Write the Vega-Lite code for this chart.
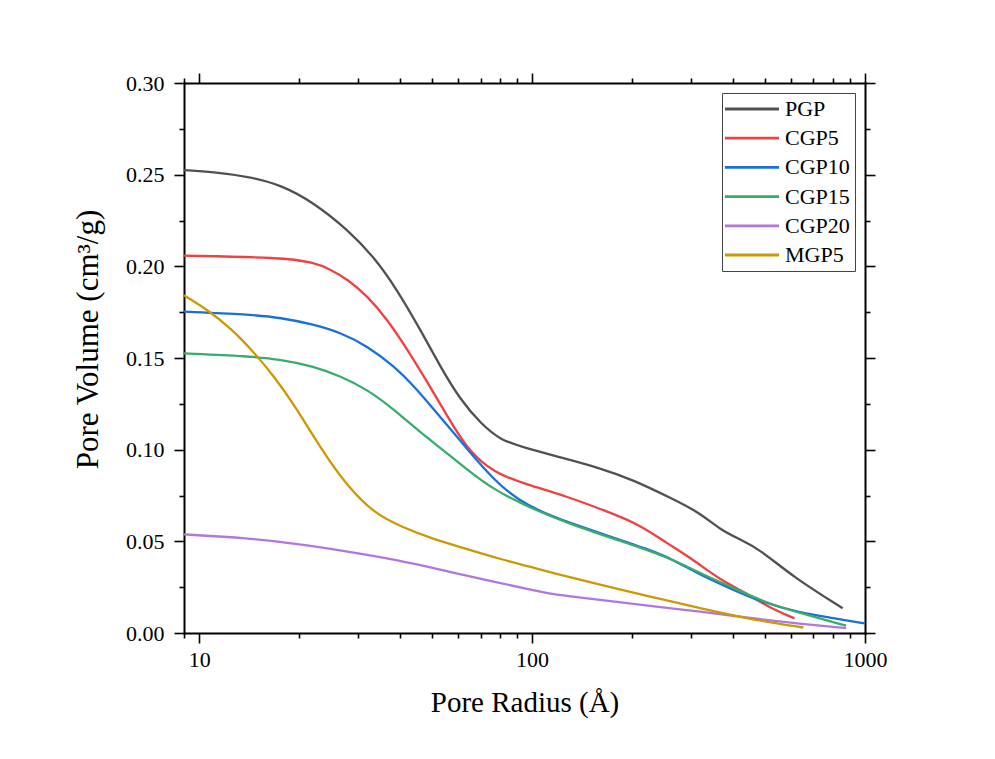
{
  "$schema": "https://vega.github.io/schema/vega-lite/v6.json",
  "width": 681,
  "height": 550,
  "autosize": {"type": "none"},
  "padding": {"left": 184, "top": 83, "right": 130, "bottom": 126},
  "background": "white",
  "config": {
    "view": {"stroke": null},
    "axis": {
      "grid": false,
      "domainColor": "black",
      "tickColor": "black",
      "labelColor": "black",
      "titleColor": "black",
      "labelFont": "Liberation Serif",
      "titleFont": "Liberation Serif",
      "labelFontSize": 22,
      "titleFontSize": 29,
      "titleFontWeight": "normal",
      "domainWidth": 2,
      "domainCap": "square",
      "tickWidth": 1.6,
      "labelFlush": false,
      "labelOverlap": false,
      "labelBound": false
    },
    "legend": {
      "labelFont": "Liberation Serif",
      "labelFontSize": 22,
      "labelColor": "black"
    }
  },
  "data": {
    "values": [
      {"series": "PGP", "r": 9, "v": 0.2525},
      {"series": "PGP", "r": 11, "v": 0.2515},
      {"series": "PGP", "r": 14, "v": 0.249},
      {"series": "PGP", "r": 17.6, "v": 0.2445},
      {"series": "PGP", "r": 22.1, "v": 0.2347},
      {"series": "PGP", "r": 27.9, "v": 0.22},
      {"series": "PGP", "r": 33.4, "v": 0.2054},
      {"series": "PGP", "r": 39.4, "v": 0.187},
      {"series": "PGP", "r": 46.3, "v": 0.165},
      {"series": "PGP", "r": 53.1, "v": 0.145},
      {"series": "PGP", "r": 61, "v": 0.127},
      {"series": "PGP", "r": 70, "v": 0.1144},
      {"series": "PGP", "r": 80.4, "v": 0.105},
      {"series": "PGP", "r": 96.6, "v": 0.1008},
      {"series": "PGP", "r": 119, "v": 0.0962},
      {"series": "PGP", "r": 160, "v": 0.09},
      {"series": "PGP", "r": 201, "v": 0.0835},
      {"series": "PGP", "r": 260, "v": 0.0738},
      {"series": "PGP", "r": 320, "v": 0.0655},
      {"series": "PGP", "r": 367, "v": 0.0563},
      {"series": "PGP", "r": 420, "v": 0.0512},
      {"series": "PGP", "r": 484, "v": 0.0455},
      {"series": "PGP", "r": 608, "v": 0.0306},
      {"series": "PGP", "r": 857, "v": 0.0135},

      {"series": "CGP5", "r": 9, "v": 0.2058},
      {"series": "CGP5", "r": 17.6, "v": 0.2048},
      {"series": "CGP5", "r": 22.1, "v": 0.2022},
      {"series": "CGP5", "r": 24.8, "v": 0.1983},
      {"series": "CGP5", "r": 27.9, "v": 0.1929},
      {"series": "CGP5", "r": 32, "v": 0.1838},
      {"series": "CGP5", "r": 36.7, "v": 0.1711},
      {"series": "CGP5", "r": 42.2, "v": 0.1547},
      {"series": "CGP5", "r": 48.4, "v": 0.137},
      {"series": "CGP5", "r": 55.6, "v": 0.1183},
      {"series": "CGP5", "r": 63.8, "v": 0.1002},
      {"series": "CGP5", "r": 76.7, "v": 0.0873},
      {"series": "CGP5", "r": 96.6, "v": 0.0809},
      {"series": "CGP5", "r": 127.4, "v": 0.0745},
      {"series": "CGP5", "r": 168, "v": 0.0663},
      {"series": "CGP5", "r": 211, "v": 0.059},
      {"series": "CGP5", "r": 254, "v": 0.049},
      {"series": "CGP5", "r": 305, "v": 0.04},
      {"series": "CGP5", "r": 367, "v": 0.029},
      {"series": "CGP5", "r": 441, "v": 0.0218},
      {"series": "CGP5", "r": 507, "v": 0.0145},
      {"series": "CGP5", "r": 614, "v": 0.008},

      {"series": "CGP10", "r": 9, "v": 0.1753},
      {"series": "CGP10", "r": 14, "v": 0.1738},
      {"series": "CGP10", "r": 17.6, "v": 0.172},
      {"series": "CGP10", "r": 22.1, "v": 0.1683},
      {"series": "CGP10", "r": 26.6, "v": 0.1638},
      {"series": "CGP10", "r": 32, "v": 0.1565},
      {"series": "CGP10", "r": 38.5, "v": 0.1455},
      {"series": "CGP10", "r": 44.2, "v": 0.1346},
      {"series": "CGP10", "r": 50.7, "v": 0.1219},
      {"series": "CGP10", "r": 58.2, "v": 0.1092},
      {"series": "CGP10", "r": 63.8, "v": 0.1003},
      {"series": "CGP10", "r": 76.7, "v": 0.0836},
      {"series": "CGP10", "r": 90.2, "v": 0.0727},
      {"series": "CGP10", "r": 113.5, "v": 0.0636},
      {"series": "CGP10", "r": 160, "v": 0.0545},
      {"series": "CGP10", "r": 226, "v": 0.0454},
      {"series": "CGP10", "r": 266, "v": 0.0399},
      {"series": "CGP10", "r": 320, "v": 0.0317},
      {"series": "CGP10", "r": 403, "v": 0.0235},
      {"series": "CGP10", "r": 484, "v": 0.0172},
      {"series": "CGP10", "r": 638, "v": 0.0109},
      {"series": "CGP10", "r": 803, "v": 0.0082},
      {"series": "CGP10", "r": 1000, "v": 0.0052},

      {"series": "CGP15", "r": 9, "v": 0.1525},
      {"series": "CGP15", "r": 14, "v": 0.151},
      {"series": "CGP15", "r": 17.6, "v": 0.1492},
      {"series": "CGP15", "r": 22.1, "v": 0.1455},
      {"series": "CGP15", "r": 26.6, "v": 0.1401},
      {"series": "CGP15", "r": 32, "v": 0.1328},
      {"series": "CGP15", "r": 38.5, "v": 0.1219},
      {"series": "CGP15", "r": 46.3, "v": 0.1092},
      {"series": "CGP15", "r": 54.3, "v": 0.0995},
      {"series": "CGP15", "r": 63.8, "v": 0.0891},
      {"series": "CGP15", "r": 76.7, "v": 0.0782},
      {"series": "CGP15", "r": 96.6, "v": 0.069},
      {"series": "CGP15", "r": 127.4, "v": 0.06},
      {"series": "CGP15", "r": 180, "v": 0.0508},
      {"series": "CGP15", "r": 254, "v": 0.0417},
      {"series": "CGP15", "r": 320, "v": 0.0326},
      {"series": "CGP15", "r": 403, "v": 0.0245},
      {"series": "CGP15", "r": 507, "v": 0.0163},
      {"series": "CGP15", "r": 638, "v": 0.0109},
      {"series": "CGP15", "r": 877, "v": 0.004},

      {"series": "CGP20", "r": 9, "v": 0.0538},
      {"series": "CGP20", "r": 14, "v": 0.0518},
      {"series": "CGP20", "r": 19.7, "v": 0.0487},
      {"series": "CGP20", "r": 27.9, "v": 0.0445},
      {"series": "CGP20", "r": 39.4, "v": 0.0399},
      {"series": "CGP20", "r": 55.6, "v": 0.0337},
      {"series": "CGP20", "r": 78.5, "v": 0.0275},
      {"series": "CGP20", "r": 100, "v": 0.0236},
      {"series": "CGP20", "r": 113.5, "v": 0.0212},
      {"series": "CGP20", "r": 160, "v": 0.0181},
      {"series": "CGP20", "r": 226, "v": 0.0148},
      {"series": "CGP20", "r": 320, "v": 0.0117},
      {"series": "CGP20", "r": 452, "v": 0.0081},
      {"series": "CGP20", "r": 638, "v": 0.005},
      {"series": "CGP20", "r": 877, "v": 0.0027},

      {"series": "MGP5", "r": 9, "v": 0.1842},
      {"series": "MGP5", "r": 10.6, "v": 0.1762},
      {"series": "MGP5", "r": 12.4, "v": 0.1665},
      {"series": "MGP5", "r": 14.6, "v": 0.1532},
      {"series": "MGP5", "r": 16.8, "v": 0.1398},
      {"series": "MGP5", "r": 19.3, "v": 0.1245},
      {"series": "MGP5", "r": 23.5, "v": 0.099},
      {"series": "MGP5", "r": 27.9, "v": 0.08},
      {"series": "MGP5", "r": 33.5, "v": 0.0654},
      {"series": "MGP5", "r": 40.3, "v": 0.0581},
      {"series": "MGP5", "r": 49.5, "v": 0.0518},
      {"series": "MGP5", "r": 62.4, "v": 0.0463},
      {"series": "MGP5", "r": 80.4, "v": 0.0402},
      {"series": "MGP5", "r": 100, "v": 0.0359},
      {"series": "MGP5", "r": 113.5, "v": 0.0331},
      {"series": "MGP5", "r": 160, "v": 0.0263},
      {"series": "MGP5", "r": 226, "v": 0.0199},
      {"series": "MGP5", "r": 320, "v": 0.0135},
      {"series": "MGP5", "r": 452, "v": 0.0075},
      {"series": "MGP5", "r": 653, "v": 0.003}
    ]
  },
  "resolve": {"axis": {"x": "independent", "y": "independent"}},
  "layer": [
    {
      "mark": {"type": "line", "interpolate": "basis", "strokeWidth": 2.3},
      "encoding": {
        "x": {
          "field": "r", "type": "quantitative",
          "scale": {"type": "log", "domain": [9, 1000], "nice": false},
          "axis": {"orient": "bottom", "values": [10, 100, 1000], "format": "d", "tickSize": 10, "labelPadding": 6, "title": "Pore Radius (Å)", "titlePadding": 18}
        },
        "y": {
          "field": "v", "type": "quantitative",
          "scale": {"domain": [0, 0.3], "nice": false, "zero": false},
          "axis": {"orient": "left", "values": [0, 0.05, 0.1, 0.15, 0.2, 0.25, 0.3], "format": ".2f", "tickSize": 10, "labelPadding": 10, "title": "Pore Volume (cm³/g)", "titleFontSize": 31, "titleY": 256, "titlePadding": 21}
        },
        "color": {
          "field": "series", "type": "nominal",
          "scale": {
            "domain": ["PGP", "CGP5", "CGP10", "CGP15", "CGP20", "MGP5"],
            "range": ["#515151", "#F14040", "#1A6FDF", "#37AD6B", "#B177DE", "#CC9900"]
          },
          "legend": {
            "title": null,
            "orient": "none",
            "legendX": 538,
            "legendY": 10,
            "symbolType": "M-5,0H5",
            "symbolSize": 117,
            "symbolStrokeWidth": 2.8,
            "symbolOffset": 14,
            "labelOffset": 22,
            "rowPadding": 7.2,
            "padding": 5,
            "strokeColor": "#444444",
            "fillColor": "white"
          }
        }
      }
    },
    {
      "mark": {"type": "line", "opacity": 0},
      "encoding": {
        "x": {"field": "r", "type": "quantitative", "axis": {"orient": "bottom", "values": [9, 20, 30, 40, 50, 60, 70, 80, 90, 200, 300, 400, 500, 600, 700, 800, 900], "tickSize": 5, "labels": false, "domain": false, "title": null}},
        "y": {"field": "v", "type": "quantitative", "axis": {"orient": "left", "values": [0.025, 0.075, 0.125, 0.175, 0.225, 0.275], "tickSize": 5, "labels": false, "domain": false, "title": null}},
        "detail": {"field": "series"}
      }
    },
    {
      "mark": {"type": "line", "opacity": 0},
      "encoding": {
        "x": {"field": "r", "type": "quantitative", "axis": {"orient": "top", "values": [10, 100, 1000], "tickSize": 10, "labels": false, "title": null}},
        "y": {"field": "v", "type": "quantitative", "axis": {"orient": "right", "values": [0, 0.05, 0.1, 0.15, 0.2, 0.25, 0.3], "tickSize": 10, "labels": false, "title": null}},
        "detail": {"field": "series"}
      }
    },
    {
      "mark": {"type": "line", "opacity": 0},
      "encoding": {
        "x": {"field": "r", "type": "quantitative", "axis": {"orient": "top", "values": [9, 20, 30, 40, 50, 60, 70, 80, 90, 200, 300, 400, 500, 600, 700, 800, 900], "tickSize": 5, "labels": false, "domain": false, "title": null}},
        "y": {"field": "v", "type": "quantitative", "axis": {"orient": "right", "values": [0.025, 0.075, 0.125, 0.175, 0.225, 0.275], "tickSize": 5, "labels": false, "domain": false, "title": null}},
        "detail": {"field": "series"}
      }
    }
  ]
}
